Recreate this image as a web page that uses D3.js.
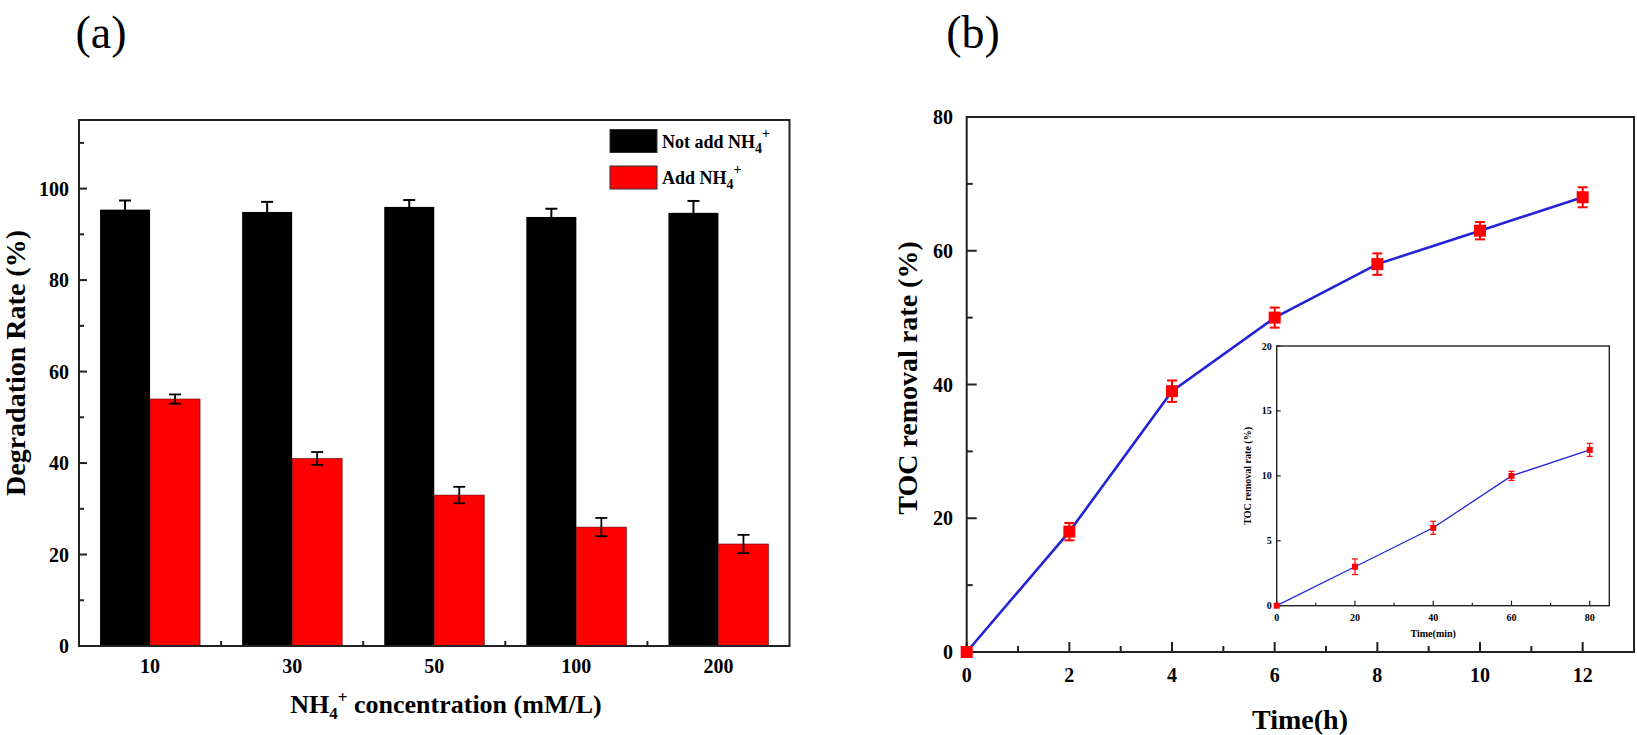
<!DOCTYPE html>
<html>
<head>
<meta charset="utf-8">
<script src="https://cdn.jsdelivr.net/npm/d3@7"></script>
<style>
  body { margin: 0; background: #fff; }
  text { font-family: "Liberation Serif", "Times New Roman", serif; }
</style>
</head>
<body>
<div id="chart"></div>
<script>
// panel (a): degradation rate with / without NH4+
const concentrations = ["10", "30", "50", "100", "200"];
const notAdd = [95.4, 94.9, 96.0, 93.8, 94.7];
const notAddErr = [2.0, 2.2, 1.5, 1.8, 2.6];
const addNH4 = [54.0, 41.0, 33.0, 26.0, 22.3];
const addNH4Err = [1.0, 1.4, 1.8, 2.0, 2.0];
const yTicksA = [0, 20, 40, 60, 80, 100];

// panel (b): TOC removal over hours
const hours = [0, 2, 4, 6, 8, 10, 12];
const tocRate = [0, 18, 39, 50, 58, 63, 68];
const tocErr = [0.3, 1.3, 1.6, 1.5, 1.6, 1.3, 1.5];
const xTicksB = [0, 2, 4, 6, 8, 10, 12];
const yTicksB = [0, 20, 40, 60, 80];

// inset: TOC removal over minutes
const minutes = [0, 20, 40, 60, 80];
const tocMin = [0, 3, 6, 10, 12];
const tocMinErr = [0.1, 0.6, 0.5, 0.35, 0.5];
const xTicksInset = [0, 20, 40, 60, 80];
const yTicksInset = [0, 5, 10, 15, 20];

const width = 1637, height = 735;
const svg = d3.select("#chart").append("svg")
    .attr("width", width).attr("height", height)
    .attr("viewBox", `0 0 ${width} ${height}`);

const blue = "#2424d6";
const red = "#ff0000";

// ---------- panel (a) ----------
const A = { left: 79, right: 789.5, top: 120, bottom: 646 };
const xA = d3.scaleLinear().domain([-0.5, 4.5]).range([A.left, A.right]);
const yA = d3.scaleLinear().domain([0, 115]).range([A.bottom, A.top]);
const barW = 50;

const gA = svg.append("g");

// black bars
gA.selectAll(".bar-not").data(notAdd).enter().append("rect")
    .attr("x", (d, i) => xA(i) - barW)
    .attr("y", d => yA(d))
    .attr("width", barW)
    .attr("height", d => yA(0) - yA(d))
    .attr("fill", "#000");

// red bars
gA.selectAll(".bar-add").data(addNH4).enter().append("rect")
    .attr("x", (d, i) => xA(i))
    .attr("y", d => yA(d))
    .attr("width", barW)
    .attr("height", d => yA(0) - yA(d))
    .attr("fill", red)
    .attr("stroke", "#600").attr("stroke-width", 0.6);

// error bars
function errorBar(g, cx, yTop, yBot, cap, color, sw) {
    g.append("line").attr("x1", cx).attr("x2", cx).attr("y1", yTop).attr("y2", yBot)
        .attr("stroke", color).attr("stroke-width", sw);
    g.append("line").attr("x1", cx - cap).attr("x2", cx + cap).attr("y1", yTop).attr("y2", yTop)
        .attr("stroke", color).attr("stroke-width", sw);
    g.append("line").attr("x1", cx - cap).attr("x2", cx + cap).attr("y1", yBot).attr("y2", yBot)
        .attr("stroke", color).attr("stroke-width", sw);
}
notAdd.forEach((v, i) => errorBar(gA, xA(i) - barW / 2, yA(v + notAddErr[i]), yA(v - notAddErr[i]), 6, "#000", 2));
addNH4.forEach((v, i) => errorBar(gA, xA(i) + barW / 2, yA(v + addNH4Err[i]), yA(v - addNH4Err[i]), 6, "#000", 1.8));

// frame
gA.append("rect").attr("x", A.left).attr("y", A.top)
    .attr("width", A.right - A.left).attr("height", A.bottom - A.top)
    .attr("fill", "none").attr("stroke", "#222").attr("stroke-width", 2);

// y ticks (inward) + labels
gA.selectAll(".ytA").data(d3.range(0, 111, 10)).enter().append("line")
    .attr("x1", A.left).attr("x2", d => A.left + (d % 20 === 0 ? 8 : 5))
    .attr("y1", d => yA(d)).attr("y2", d => yA(d))
    .attr("stroke", "#222").attr("stroke-width", 2);
gA.selectAll(".ylA").data(yTicksA).enter().append("text")
    .attr("x", A.left - 10).attr("y", d => yA(d)).attr("dy", "0.35em")
    .attr("text-anchor", "end").attr("font-size", 20).attr("font-weight", "bold")
    .text(d => d);

// x axis: small ticks between groups, labels at groups
gA.selectAll(".xtA").data(d3.range(0.5, 4, 1)).enter().append("line")
    .attr("x1", d => xA(d)).attr("x2", d => xA(d))
    .attr("y1", A.bottom).attr("y2", A.bottom - 5)
    .attr("stroke", "#222").attr("stroke-width", 2);
gA.selectAll(".xlA").data(concentrations).enter().append("text")
    .attr("x", (d, i) => xA(i)).attr("y", 673)
    .attr("text-anchor", "middle").attr("font-size", 20).attr("font-weight", "bold")
    .text(d => d);

// axis titles
gA.append("text")
    .attr("transform", "translate(25,363) rotate(-90)")
    .attr("text-anchor", "middle").attr("font-size", 28).attr("font-weight", "bold")
    .text("Degradation Rate (%)");

const xtA = gA.append("text").attr("x", 446).attr("y", 713)
    .attr("text-anchor", "middle").attr("font-size", 26).attr("font-weight", "bold");
xtA.append("tspan").text("NH");
xtA.append("tspan").attr("font-size", 17).attr("dy", 6).text("4");
xtA.append("tspan").attr("font-size", 17).attr("dy", -16).text("+");
xtA.append("tspan").attr("dy", 10).text(" concentration (mM/L)");

// legend
const legendItems = [
    { label: "Not add NH", fill: "#000", y: 129.5 },
    { label: "Add NH", fill: red, y: 166 }
];
legendItems.forEach(item => {
    gA.append("rect").attr("x", 610).attr("y", item.y).attr("width", 47).attr("height", 23)
        .attr("fill", item.fill).attr("stroke", "#333").attr("stroke-width", 1);
    const t = gA.append("text").attr("x", 662).attr("y", item.y + 18)
        .attr("font-size", 18).attr("font-weight", "bold");
    t.append("tspan").text(item.label);
    t.append("tspan").attr("font-size", 14).attr("dy", 5).text("4");
    t.append("tspan").attr("font-size", 14).attr("dy", -15).text("+");
});

// panel label
svg.append("text").attr("x", 101).attr("y", 48).attr("text-anchor", "middle")
    .attr("font-size", 46).text("(a)");

// ---------- panel (b) ----------
const B = { left: 966.7, right: 1634, top: 117, bottom: 652 };
const xB = d3.scaleLinear().domain([0, 13]).range([B.left, B.right]);
const yB = d3.scaleLinear().domain([0, 80]).range([B.bottom, B.top]);
const gB = svg.append("g");

gB.append("rect").attr("x", B.left).attr("y", B.top)
    .attr("width", B.right - B.left).attr("height", B.bottom - B.top)
    .attr("fill", "none").attr("stroke", "#222").attr("stroke-width", 2);

gB.selectAll(".xtB").data(d3.range(0, 13, 1)).enter().append("line")
    .attr("x1", d => xB(d)).attr("x2", d => xB(d))
    .attr("y1", B.bottom).attr("y2", d => B.bottom - (d % 2 === 0 ? 10 : 6))
    .attr("stroke", "#222").attr("stroke-width", 2);
gB.selectAll(".ytB").data(d3.range(0, 81, 10)).enter().append("line")
    .attr("x1", B.left).attr("x2", d => B.left + (d % 20 === 0 ? 10 : 6))
    .attr("y1", d => yB(d)).attr("y2", d => yB(d))
    .attr("stroke", "#222").attr("stroke-width", 2);

gB.selectAll(".xlB").data(xTicksB).enter().append("text")
    .attr("x", d => xB(d)).attr("y", 682)
    .attr("text-anchor", "middle").attr("font-size", 20).attr("font-weight", "bold")
    .text(d => d);
gB.selectAll(".ylB").data(yTicksB).enter().append("text")
    .attr("x", 953).attr("y", d => yB(d)).attr("dy", "0.35em")
    .attr("text-anchor", "end").attr("font-size", 20).attr("font-weight", "bold")
    .text(d => d);

gB.append("text")
    .attr("transform", "translate(917,378) rotate(-90)")
    .attr("text-anchor", "middle").attr("font-size", 28).attr("font-weight", "bold")
    .text("TOC removal rate (%)");
gB.append("text").attr("x", 1300).attr("y", 729)
    .attr("text-anchor", "middle").attr("font-size", 28).attr("font-weight", "bold")
    .text("Time(h)");

const lineB = d3.line().x((d, i) => xB(hours[i])).y(d => yB(d));
gB.append("path").datum(tocRate).attr("d", lineB)
    .attr("fill", "none").attr("stroke", blue).attr("stroke-width", 2.6);

tocRate.forEach((v, i) => {
    if (i > 0) errorBar(gB, xB(hours[i]), yB(v + tocErr[i]), yB(v - tocErr[i]), 5, red, 2);
});
gB.selectAll(".ptB").data(tocRate).enter().append("rect")
    .attr("x", (d, i) => xB(hours[i]) - 6).attr("y", d => yB(d) - 6)
    .attr("width", 12).attr("height", 12).attr("fill", red);

svg.append("text").attr("x", 973).attr("y", 48).attr("text-anchor", "middle")
    .attr("font-size", 46).text("(b)");

// ---------- inset ----------
const I = { left: 1276.7, right: 1609.3, top: 346, bottom: 605.7 };
const xI = d3.scaleLinear().domain([0, 85]).range([I.left, I.right]);
const yI = d3.scaleLinear().domain([0, 20]).range([I.bottom, I.top]);
const gI = svg.append("g");

gI.append("rect").attr("x", I.left).attr("y", I.top)
    .attr("width", I.right - I.left).attr("height", I.bottom - I.top)
    .attr("fill", "#fff").attr("stroke", "#222").attr("stroke-width", 1.4);

gI.selectAll(".xtI").data(d3.range(0, 81, 10)).enter().append("line")
    .attr("x1", d => xI(d)).attr("x2", d => xI(d))
    .attr("y1", I.bottom).attr("y2", d => I.bottom - (d % 20 === 0 ? 5 : 3))
    .attr("stroke", "#222").attr("stroke-width", 1.2);
gI.selectAll(".ytI").data(yTicksInset).enter().append("line")
    .attr("x1", I.left).attr("x2", I.left + 4)
    .attr("y1", d => yI(d)).attr("y2", d => yI(d))
    .attr("stroke", "#222").attr("stroke-width", 1.2);

gI.selectAll(".xlI").data(xTicksInset).enter().append("text")
    .attr("x", d => xI(d)).attr("y", I.bottom + 15)
    .attr("text-anchor", "middle").attr("font-size", 10).attr("font-weight", "bold")
    .text(d => d);
gI.selectAll(".ylI").data(yTicksInset).enter().append("text")
    .attr("x", I.left - 5).attr("y", d => yI(d)).attr("dy", "0.35em")
    .attr("text-anchor", "end").attr("font-size", 10).attr("font-weight", "bold")
    .text(d => d);

gI.append("text")
    .attr("transform", `translate(${I.left - 26},${(I.top + I.bottom) / 2}) rotate(-90)`)
    .attr("text-anchor", "middle").attr("font-size", 10).attr("font-weight", "bold")
    .text("TOC removal rate (%)");
gI.append("text").attr("x", xI(40)).attr("y", I.bottom + 31)
    .attr("text-anchor", "middle").attr("font-size", 10).attr("font-weight", "bold")
    .text("Time(min)");

const lineI = d3.line().x((d, i) => xI(minutes[i])).y(d => yI(d));
gI.append("path").datum(tocMin).attr("d", lineI)
    .attr("fill", "none").attr("stroke", blue).attr("stroke-width", 1.3);
tocMin.forEach((v, i) => {
    if (i > 0) errorBar(gI, xI(minutes[i]), yI(v + tocMinErr[i]), yI(v - tocMinErr[i]), 3, red, 1.2);
});
gI.selectAll(".ptI").data(tocMin).enter().append("rect")
    .attr("x", (d, i) => xI(minutes[i]) - 3).attr("y", d => yI(d) - 3)
    .attr("width", 6).attr("height", 6).attr("fill", red);
</script>
</body>
</html>
